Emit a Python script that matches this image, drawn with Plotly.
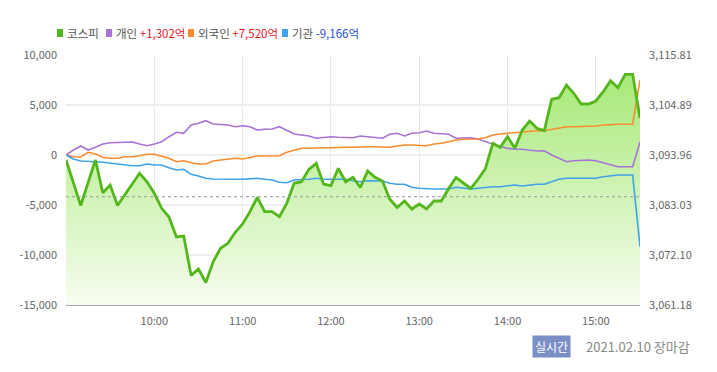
import plotly.graph_objects as go

# ---- data ----
times = [f"2021-02-10 {9 + (i * 5) // 60:02d}:{(i * 5) % 60:02d}" for i in range(79)]

kospi = [3092.87, 3088.0, 3082.92, 3087.92, 3092.87, 3085.72, 3087.40, 3082.92, 3085.26, 3087.62,
         3089.96, 3088.12, 3085.59, 3082.31, 3080.41, 3076.04, 3076.26, 3067.63, 3069.05, 3066.10,
         3070.64, 3073.57, 3074.66, 3077.07, 3078.88, 3081.57, 3084.71, 3081.57, 3081.57, 3080.48,
         3083.40, 3087.77, 3088.12, 3090.83, 3092.14, 3087.62, 3087.25, 3091.05, 3088.12, 3089.08,
         3086.86, 3090.46, 3089.08, 3088.28, 3084.28, 3082.49, 3083.91, 3082.11, 3083.25, 3082.16,
         3083.91, 3083.91, 3086.64, 3089.04, 3087.84, 3086.64, 3088.65, 3091.01, 3096.51, 3095.64,
         3097.96, 3095.42, 3099.42, 3101.39, 3099.79, 3099.27, 3106.13, 3106.48, 3109.25, 3107.44,
         3105.10, 3105.10, 3105.76, 3107.79, 3110.19, 3108.66, 3111.59, 3111.59, 3102.04]

individual = [0, 500, 900, 500, 770, 1100, 1230, 1270, 1270, 1300,
              1100, 930, 1100, 1330, 1830, 2270, 2170, 3000, 3170, 3430,
              3100, 3070, 3000, 2830, 2930, 2830, 2500, 2570, 2600, 2830,
              2500, 2100, 2000, 1900, 1670, 1770, 1830, 1770, 1730, 1730,
              1900, 1830, 1770, 1670, 2070, 2170, 1900, 2170, 2230, 2400,
              2170, 2100, 2070, 1670, 1670, 1730, 1600, 1330, 1050, 830,
              670, 570, 570, 500, 400, 430, 0, -330, -670, -570,
              -500, -500, -570, -770, -1000, -1170, -1170, -1170, 1302]

foreign = [0, -170, -200, 270, 100, -230, -330, -330, -170, -170,
           -70, 70, 70, -100, -330, -670, -570, -770, -900, -900,
           -600, -500, -430, -330, -400, -270, -100, -100, -100, -70,
           270, 500, 670, 670, 730, 730, 730, 770, 770, 770,
           830, 830, 830, 830, 770, 900, 1000, 1000, 930, 930,
           1100, 1170, 1330, 1500, 1570, 1570, 1600, 1730, 2000, 2100,
           2170, 2270, 2330, 2400, 2430, 2430, 2570, 2730, 2830, 2830,
           2830, 2900, 2900, 3000, 3070, 3070, 3070, 3070, 7520]

institution = [0, -400, -600, -670, -670, -730, -830, -900, -1000, -1070,
               -1070, -900, -1000, -1000, -1270, -1500, -1430, -1930, -2100, -2330,
               -2400, -2430, -2430, -2430, -2430, -2400, -2330, -2430, -2500, -2730,
               -2770, -2500, -2500, -2430, -2330, -2430, -2430, -2430, -2430, -2570,
               -2670, -2570, -2570, -2600, -2830, -2930, -2930, -3230, -3330, -3400,
               -3400, -3400, -3400, -3230, -3330, -3400, -3330, -3230, -3170, -3170,
               -3070, -3000, -3100, -3000, -2930, -2930, -2670, -2430, -2330, -2330,
               -2400, -2400, -2330, -2170, -2070, -2000, -2000, -2000, -9166]

prev_close = 3084.84

left_ticks = [-15000, -10000, -5000, 0, 5000, 10000]
left_labels = ["-15,000", "-10,000", "-5,000", "0", "5,000", "10,000"]
right_ticks = [3061.18, 3072.10, 3083.03, 3093.96, 3104.89, 3115.81]
right_labels = ["3,061.18", "3,072.10", "3,083.03", "3,093.96", "3,104.89", "3,115.81"]
hour_ticks = ["2021-02-10 10:00", "2021-02-10 11:00", "2021-02-10 12:00",
              "2021-02-10 13:00", "2021-02-10 14:00", "2021-02-10 15:00"]
hour_labels = ["10:00", "11:00", "12:00", "13:00", "14:00", "15:00"]

legend_names = ["코스피", "개인", "외국인", "기관"]
legend_values = ["", "+1,302억", "+7,520억", "-9,166억"]
date_text = "2021.02.10 장마감"
badge_text = "실시간"

# ---- style ----
W, H = 717, 372
ML, MR, MT, MB = 66, 77, 55, 67
PW, PH = W - ML - MR, H - MT - MB
FONT = "Noto Sans CJK KR"
C_KOSPI = "#53b71c"
C_IND = "#a873d6"
C_FOR = "#fb8b2c"
C_INS = "#3fa2ea"


def px(x):
    return (x - ML) / PW


def py(y):
    return (H - MB - y) / PH


fig = go.Figure()

# KOSPI fill on primary y (drawn lowest)
fig.add_trace(go.Scatter(
    x=times, y=kospi, yaxis="y", mode="lines", fill="tozeroy",
    line=dict(width=0, color="rgba(0,0,0,0)"),
    fillgradient=dict(type="vertical",
                      colorscale=[[0, "rgba(247,253,240,1)"], [1, "rgba(160,231,110,1)"]],
                      start=right_ticks[0], stop=right_ticks[-1]),
    hoverinfo="skip", showlegend=False))

# investor lines on overlay y2 (left axis)
for vals, col in [(individual, C_IND), (foreign, C_FOR), (institution, C_INS)]:
    fig.add_trace(go.Scatter(x=times, y=vals, yaxis="y2", mode="lines",
                             line=dict(color=col, width=1.6), showlegend=False))

# KOSPI line on top (y3 mirrors primary range)
fig.add_trace(go.Scatter(x=times, y=kospi, yaxis="y3", mode="lines",
                         line=dict(color=C_KOSPI, width=2.8), showlegend=False))

fig.add_shape(type="line", xref="x", yref="y", x0=times[0], x1=times[-1],
              y0=prev_close, y1=prev_close, line=dict(color="#999999", width=1, dash="dot"))

# legend
sq_x = [57, 106, 188, 282]
colors = [C_KOSPI, C_IND, C_FOR, C_INS]
val_colors = ["#333", "#e8141c", "#e8141c", "#1f4fd6"]
for name, val, x0, col, vc in zip(legend_names, legend_values, sq_x, colors, val_colors):
    fig.add_shape(type="rect", xref="paper", yref="paper",
                  x0=px(x0), x1=px(x0 + 6), y0=py(37), y1=py(29),
                  fillcolor=col, line=dict(width=0))
    txt = name if not val else f"{name} <span style='color:{vc}'>{val}</span>"
    fig.add_annotation(xref="paper", yref="paper", x=px(x0 + 8), y=py(33),
                       xanchor="left", yanchor="middle", showarrow=False,
                       text=txt, font=dict(family=FONT, size=11.5, color="#555"))

fig.add_annotation(xref="paper", yref="paper", x=px(551), y=py(346),
                   xanchor="center", yanchor="middle", showarrow=False,
                   text=badge_text, bgcolor="#7b8fc7", borderpad=2,
                   font=dict(family=FONT, size=12, color="white"))
fig.add_annotation(xref="paper", yref="paper", x=px(584), y=py(346),
                   xanchor="left", yanchor="middle", showarrow=False,
                   text=date_text, font=dict(family=FONT, size=13, color="#888"))

fig.update_layout(
    width=W, height=H, margin=dict(l=ML, r=MR, t=MT, b=MB, autoexpand=False),
    paper_bgcolor="white", plot_bgcolor="white",
    font=dict(family=FONT, size=11, color="#666"),
    showlegend=False,
    xaxis=dict(type="date", range=[times[0], times[-1]],
               tickvals=hour_ticks, ticktext=hour_labels,
               showgrid=True, gridcolor="#e8e8e8", gridwidth=1,
               showline=True, linecolor="#aaaaaa", linewidth=1,
               ticks="", ticklabelstandoff=6, zeroline=False),
    yaxis=dict(range=[right_ticks[0], right_ticks[-1]], tickvals=right_ticks, ticktext=right_labels,
               side="right", showgrid=True, gridcolor="#eeeeee", gridwidth=1.5, zeroline=False,
               ticks="", ticklabelstandoff=8),
    yaxis2=dict(range=[left_ticks[0], left_ticks[-1]], tickvals=left_ticks, ticktext=left_labels,
                overlaying="y", side="left", showgrid=False, zeroline=False,
                ticks="", ticklabelstandoff=8),
    yaxis3=dict(range=[right_ticks[0], right_ticks[-1]], overlaying="y", side="right",
                visible=False, showgrid=False, zeroline=False),
)

fig.write_html("out.html", config={"displayModeBar": False},
               post_script="document.body.style.margin='0';")
